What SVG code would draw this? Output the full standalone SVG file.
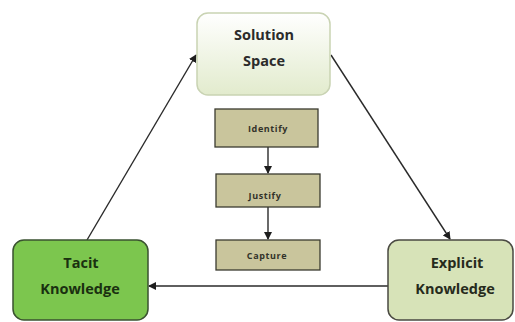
<svg xmlns="http://www.w3.org/2000/svg" width="515" height="322" viewBox="0 0 515 322">
<style>
.big{font-family:"Open Sans","Liberation Sans",sans-serif;font-size:14.5px;font-weight:bold;text-anchor:middle;}
.small{font-family:"Open Sans","Liberation Sans",sans-serif;font-size:9px;font-weight:bold;letter-spacing:0.6px;text-anchor:middle;fill:#33332a;}
.step{fill:#c9c59c;stroke:#3b3b30;stroke-width:1.3;}
.conn{stroke:#2a2a2a;stroke-width:1.4;fill:none;marker-end:url(#ah);}
</style>
<defs>
<linearGradient id="gs" x1="0" y1="0" x2="0" y2="1">
<stop offset="0" stop-color="#ffffff"/>
<stop offset="1" stop-color="#e2ebcd"/>
</linearGradient>
<marker id="ah" markerWidth="8" markerHeight="8" refX="7" refY="4" orient="auto" markerUnits="userSpaceOnUse">
<path d="M0,0 L8,4 L0,8 Z" fill="#1e1e1e"/>
</marker>
</defs>
<rect width="515" height="322" fill="#ffffff"/>
<g id="connectors">
<line class="conn" x1="87" y1="240" x2="196" y2="55"/>
<line class="conn" x1="331" y1="55" x2="450" y2="239"/>
<line class="conn" x1="388" y1="286" x2="149" y2="286"/>
<line class="conn" x1="268" y1="147" x2="268" y2="173"/>
<line class="conn" x1="268" y1="207" x2="268" y2="239"/>
</g>
<g id="solution-space">
<rect x="197" y="13" width="133" height="82" rx="11" fill="url(#gs)" stroke="#c9d3b3" stroke-width="1.5"/>
<text class="big" x="264" y="40" fill="#2b2b2b">Solution</text>
<text class="big" x="264" y="66" fill="#2b2b2b">Space</text>
</g>
<g id="tacit-knowledge">
<rect x="13" y="240" width="135" height="80" rx="11" fill="#7cc64e" stroke="#3a5230" stroke-width="1.5"/>
<text class="big" x="81" y="268" fill="#1a3010">Tacit</text>
<text class="big" x="80" y="294" fill="#1a3010">Knowledge</text>
</g>
<g id="explicit-knowledge">
<rect x="388" y="240" width="125" height="80" rx="11" fill="#d7e3b8" stroke="#4a4a42" stroke-width="1.5"/>
<text class="big" x="457" y="268" fill="#262b1c">Explicit</text>
<text class="big" x="455" y="294" fill="#262b1c">Knowledge</text>
</g>
<g id="identify">
<rect class="step" x="215" y="109" width="103" height="38"/>
<text class="small" x="268" y="132">Identify</text>
</g>
<g id="justify">
<rect class="step" x="216" y="174" width="104" height="33"/>
<text class="small" x="265" y="199">Justify</text>
</g>
<g id="capture">
<rect class="step" x="216" y="240" width="104" height="30"/>
<text class="small" x="267" y="259">Capture</text>
</g>
</svg>
